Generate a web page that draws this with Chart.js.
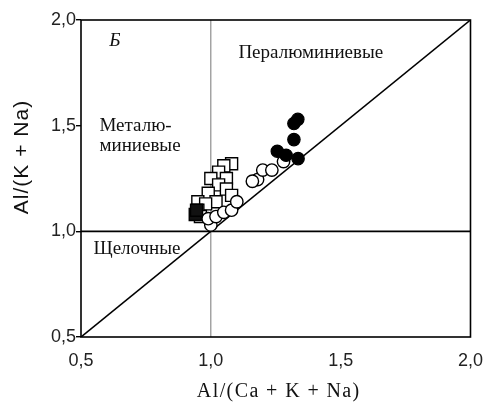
<!DOCTYPE html>
<html>
<head>
<meta charset="utf-8">
<script src="https://cdn.jsdelivr.net/npm/chart.js@4/dist/chart.umd.min.js"></script>
<style>
  html, body { margin: 0; padding: 0; background: #fff; }
  #wrap { width: 496px; height: 406px; }
</style>
</head>
<body>
<div id="wrap"><canvas id="c" width="496" height="406"></canvas></div>
<script>
// ---- data ----
const tickValues = [0.5, 1.0, 1.5, 2.0];
const tickLabels = ['0,5', '1,0', '1,5', '2,0'];
const xTitle = 'Al/(Ca + K + Na)';
const yTitle = 'Al/(K + Na)';

const whiteSquares = [
  [1.08, 1.32], [1.05, 1.31], [1.03, 1.28], [1.06, 1.25], [1.00, 1.25],
  [1.03, 1.22], [1.06, 1.20], [0.99, 1.18], [1.08, 1.17], [1.02, 1.14],
  [0.95, 1.14], [0.98, 1.13], [0.95, 1.10], [0.96, 1.07]
];
const blackSquares = [[0.94, 1.08], [0.945, 1.10]];
const whiteCircles = [
  [1.00, 1.03], [0.99, 1.06], [1.02, 1.07], [1.05, 1.09], [1.08, 1.10],
  [1.10, 1.14], [1.18, 1.245], [1.16, 1.237], [1.20, 1.29], [1.235, 1.29], [1.28, 1.33]
];
const blackCircles = [
  [1.335, 1.53], [1.32, 1.51], [1.32, 1.434], [1.256, 1.379], [1.29, 1.36], [1.336, 1.344]
];
// boundary lines
const diagonalLine = [[0.5, 0.5], [2.0, 2.0]];
const horizontalLine = [[0.5, 1.0], [2.0, 1.0]];
const verticalLine = [[1.0, 0.5], [1.0, 2.0]];

// field labels: text and anchor in data units
const fieldLabels = [
  { text: 'Б', x: 0.63, y: 1.90, italic: true, align: 'center' },
  { text: 'Пералюминиевые', x: 1.385, y: 1.842, align: 'center' },
  { text: 'Металю-', x: 0.571, y: 1.498, align: 'left' },
  { text: 'миниевые', x: 0.571, y: 1.403, align: 'left' },
  { text: 'Щелочные', x: 0.548, y: 0.917, align: 'left' }
];

const pts = arr => arr.map(p => ({ x: p[0], y: p[1] }));

const framePlugin = {
  id: 'frame',
  afterDatasetsDraw(chart) {
    const { ctx, chartArea: a, scales } = chart;
    ctx.save();
    ctx.strokeStyle = '#000';
    ctx.lineWidth = 1.6;
    ctx.strokeRect(a.left, a.top, a.right - a.left, a.bottom - a.top);
    ctx.fillStyle = '#111';
    ctx.textBaseline = 'middle';
    fieldLabels.forEach(l => {
      ctx.font = (l.italic ? 'italic ' : '') + '19px "Liberation Serif", "Times New Roman", serif';
      ctx.textAlign = l.align;
      ctx.fillText(l.text, scales.x.getPixelForValue(l.x), scales.y.getPixelForValue(l.y));
    });
    // axis titles
    ctx.textAlign = 'center';
    ctx.font = '20px "Liberation Serif", "Times New Roman", serif';
    ctx.letterSpacing = '1.4px';
    ctx.fillText(xTitle, (a.left + a.right) / 2 + 3, a.bottom + 55);
    ctx.font = '21px "Liberation Sans", Arial, sans-serif';
    ctx.letterSpacing = '1px';
    ctx.translate(chart.scales.y.left + 22, a.top + 137);
    ctx.rotate(-Math.PI / 2);
    ctx.fillText(yTitle, 0, 0);
    ctx.restore();
  }
};

const tickCb = v => {
  const i = tickValues.findIndex(t => Math.abs(t - v) < 1e-9);
  return i >= 0 ? tickLabels[i] : '';
};

new Chart(document.getElementById('c'), {
  type: 'scatter',
  data: {
    datasets: [
      { label: 'black circles', data: pts(blackCircles), pointStyle: 'circle', pointRadius: 6.2,
        backgroundColor: '#000', borderColor: '#000', borderWidth: 1.2, order: 1 },
      { label: 'white circles', data: pts(whiteCircles), pointStyle: 'circle', pointRadius: 6.2,
        backgroundColor: '#fff', borderColor: '#000', borderWidth: 1.4, order: 2 },
      { label: 'black squares', data: pts(blackSquares), pointStyle: 'rect', pointRadius: 8.5,
        backgroundColor: '#111', borderColor: '#000', borderWidth: 1.4, order: 3 },
      { label: 'white squares', data: pts(whiteSquares), pointStyle: 'rect', pointRadius: 8.5,
        backgroundColor: '#fff', borderColor: '#000', borderWidth: 1.4, order: 4 },
      { type: 'line', label: 'diag', data: pts(diagonalLine), borderColor: '#000', borderWidth: 1.6,
        pointRadius: 0, fill: false, order: 10 },
      { type: 'line', label: 'horiz', data: pts(horizontalLine), borderColor: '#000', borderWidth: 1.8,
        pointRadius: 0, fill: false, order: 11 },
      { type: 'line', label: 'vert', data: pts(verticalLine), borderColor: '#777', borderWidth: 1,
        pointRadius: 0, fill: false, order: 12 }
    ]
  },
  options: {
    responsive: false,
    animation: false,
    events: [],
    layout: { padding: { left: 0, top: 20, right: 20, bottom: 0 } },
    plugins: { legend: { display: false }, tooltip: { enabled: false } },
    scales: {
      x: {
        type: 'linear', min: 0.5, max: 2.0,
        afterBuildTicks: s => { s.ticks = tickValues.map(v => ({ value: v })); },
        afterFit: s => { s.height = 69; },
        grid: { display: false, drawTicks: false },
        border: { display: false },
        ticks: { callback: tickCb, color: '#222', padding: 13,
                 font: { family: '"Liberation Sans", Arial, sans-serif', size: 18 } },
        title: { display: false }
      },
      y: {
        type: 'linear', min: 0.5, max: 2.0,
        afterBuildTicks: s => { s.ticks = tickValues.map(v => ({ value: v })); },
        afterFit: s => { s.width = 81; },
        grid: { display: true, drawOnChartArea: false, drawTicks: true, tickLength: 5, color: '#000', lineWidth: 1.4 },
        border: { display: false },
        ticks: { callback: tickCb, color: '#222', padding: 0,
                 font: { family: '"Liberation Sans", Arial, sans-serif', size: 18 } },
        title: { display: false }
      }
    }
  },
  plugins: [framePlugin]
});
</script>
</body>
</html>
